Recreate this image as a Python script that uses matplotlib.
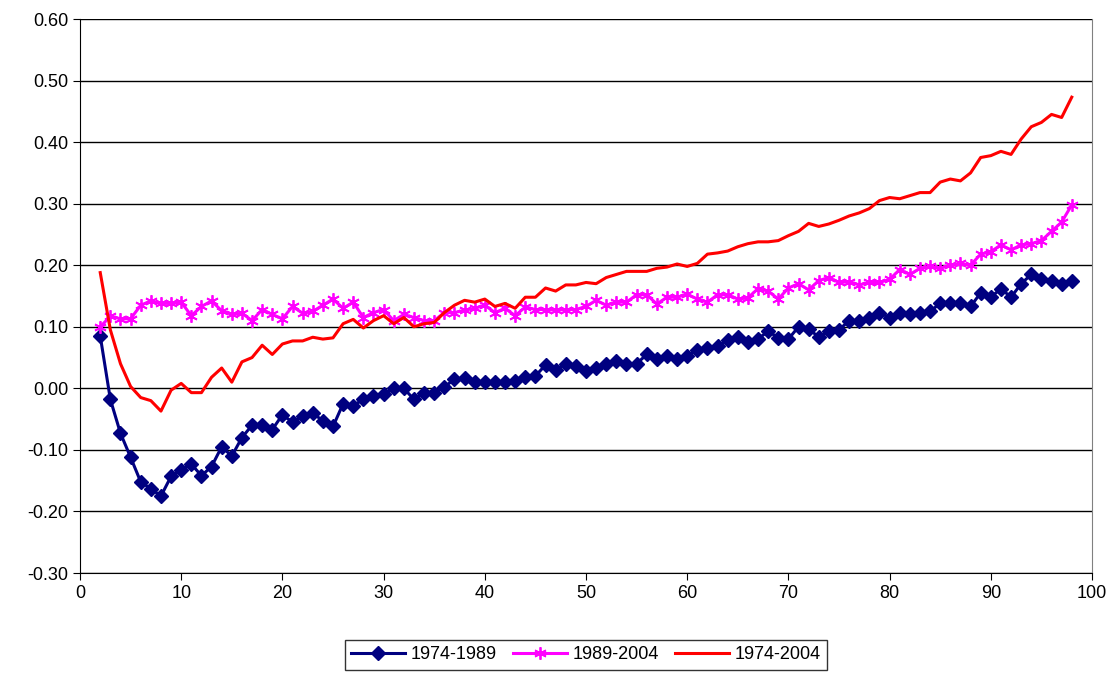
import matplotlib
matplotlib.use("Agg")
import matplotlib.pyplot as plt
import numpy as np

plt.rcParams["font.family"] = ["Liberation Sans", "DejaVu Sans"]

x = np.arange(2, 99)

s1974_1989 = [0.085, -0.018, -0.073, -0.112, -0.152, -0.163, -0.175, -0.143, -0.133, -0.123,
              -0.142, -0.127, -0.095, -0.11, -0.08, -0.06, -0.06, -0.067, -0.043, -0.055,
              -0.045, -0.04, -0.053, -0.062, -0.025, -0.028, -0.018, -0.013, -0.01, 0.0,
              0.0, -0.018, -0.007, -0.007, 0.002, 0.015, 0.016, 0.01, 0.01, 0.01,
              0.01, 0.012, 0.018, 0.02, 0.038, 0.03, 0.04, 0.037, 0.028, 0.033,
              0.04, 0.045, 0.04, 0.04, 0.055, 0.048, 0.053, 0.048, 0.053, 0.062,
              0.065, 0.068, 0.078, 0.083, 0.075, 0.08, 0.093, 0.082, 0.08, 0.1,
              0.097, 0.083, 0.093, 0.095, 0.11, 0.11, 0.115, 0.123, 0.115, 0.123,
              0.12, 0.122, 0.125, 0.138, 0.138, 0.138, 0.133, 0.155, 0.148, 0.162,
              0.148, 0.17, 0.185, 0.178, 0.175, 0.17, 0.175]

s1989_2004 = [0.10, 0.117, 0.113, 0.113, 0.135, 0.142, 0.138, 0.138, 0.14, 0.118,
              0.133, 0.142, 0.126, 0.12, 0.122, 0.11, 0.128, 0.12, 0.113, 0.133,
              0.122, 0.125, 0.135, 0.145, 0.13, 0.14, 0.115, 0.123, 0.128, 0.11,
              0.12, 0.115, 0.11, 0.11, 0.123, 0.123, 0.127, 0.13, 0.135, 0.123,
              0.13, 0.118, 0.132, 0.128, 0.128, 0.127, 0.128, 0.128, 0.133, 0.143,
              0.135, 0.14, 0.14, 0.152, 0.152, 0.137, 0.148, 0.148, 0.153, 0.145,
              0.14, 0.152, 0.152, 0.145, 0.147, 0.162, 0.158, 0.145, 0.163, 0.17,
              0.16, 0.175, 0.18, 0.172, 0.173, 0.168, 0.172, 0.172, 0.177, 0.193,
              0.185, 0.195, 0.198, 0.195, 0.2, 0.203, 0.2, 0.218, 0.222, 0.233,
              0.225, 0.233, 0.235, 0.24, 0.255, 0.27, 0.298]

s1974_2004 = [0.188, 0.095, 0.04, 0.003, -0.015, -0.02, -0.037, -0.003, 0.008, -0.007,
              -0.007, 0.018, 0.033, 0.01, 0.043, 0.05, 0.07, 0.055, 0.072, 0.077,
              0.077, 0.083, 0.08, 0.082, 0.105, 0.112, 0.098, 0.11, 0.118, 0.105,
              0.115, 0.1, 0.105, 0.107, 0.123, 0.135, 0.143, 0.14, 0.145, 0.133,
              0.138, 0.13, 0.148, 0.148, 0.163, 0.158, 0.168, 0.168, 0.172, 0.17,
              0.18, 0.185, 0.19, 0.19, 0.19, 0.195, 0.197, 0.202, 0.198, 0.203,
              0.218, 0.22, 0.223, 0.23, 0.235, 0.238, 0.238, 0.24, 0.248, 0.255,
              0.268, 0.263, 0.267, 0.273, 0.28, 0.285, 0.292, 0.305, 0.31, 0.308,
              0.313, 0.318, 0.318, 0.335, 0.34, 0.337, 0.35, 0.375, 0.378, 0.385,
              0.38, 0.405, 0.425, 0.432, 0.445, 0.44, 0.473]

fig = plt.figure(figsize=(11.18, 6.75), dpi=100)
ax = fig.add_axes([80 / 1118, 1 - 573 / 675, 1012 / 1118, 554 / 675])

ax.plot(x, s1974_1989, color="#000080", marker="D", markersize=7, linewidth=2.2, label="1974-1989")
ax.plot(x, s1989_2004, color="#FF00FF", marker=(6, 2, 0), markersize=9, markeredgewidth=1.3,
        linewidth=2.2, label="1989-2004")
ax.plot(x, s1974_2004, color="#FF0000", linewidth=2.2, label="1974-2004")

ax.set_xlim(0, 100)
ax.set_ylim(-0.30, 0.60)
ax.set_xticks(range(0, 101, 10))
ax.set_yticks(np.arange(-0.3, 0.61, 0.1))
ax.set_yticklabels([f"{v:.2f}" for v in np.arange(-0.3, 0.61, 0.1)])
ax.yaxis.grid(True, color="black", linewidth=1)
ax.set_axisbelow(True)
ax.tick_params(labelsize=13, direction="out", length=5)
ax.spines["right"].set_color("#808080")
ax.spines["top"].set_visible(False)

fig.legend(loc="lower center", bbox_to_anchor=(0.524, 0.0), ncol=3, fontsize=13,
           frameon=True, fancybox=False, edgecolor="black", handlelength=3.0,
           handletextpad=0.3, columnspacing=0.9, borderpad=0.35, borderaxespad=0.3)

fig.savefig("out.png", dpi=100)
